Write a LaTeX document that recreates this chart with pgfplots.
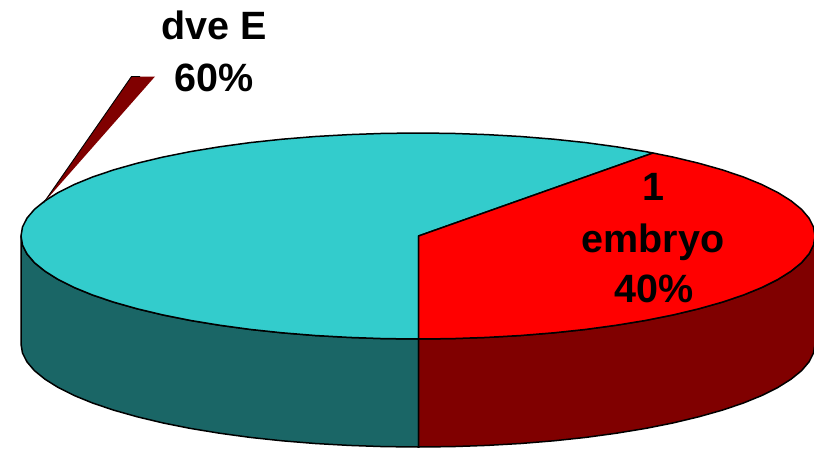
\documentclass[border=0pt]{standalone}
\usepackage{fontspec}
\setmainfont{Liberation Sans}
\usepackage{pgfplots}
\pgfplotsset{compat=1.18}
\definecolor{sliceCyan}{RGB}{51,204,204}
\definecolor{sideCyan}{RGB}{26,102,102}
\definecolor{sliceRed}{RGB}{255,0,0}
\definecolor{sideRed}{RGB}{128,0,0}
\newcommand{\pielabel}[3]{\node[anchor=base,inner sep=0pt,text=black] at (axis cs:#1,#2) {\fontsize{39.5}{47}\selectfont\bfseries #3};}
\begin{document}
\begin{tikzpicture}
\begin{axis}[
  name=pie, anchor=south west, at={(0,0)},
  width=814pt, height=448pt, scale only axis,
  xmin=0, xmax=814, ymin=0, ymax=448, y dir=reverse,
  hide axis, clip=true,
]
% side wall of the 60% slice
\addplot[draw=black, line width=1.5pt, fill=sideCyan, line join=round] coordinates {
 (21,236) (22.5,245) (27,253.9) (34.5,262.7) (45,271.2) (58.2,279.5) (74.2,287.5) (92.8,295.1)
 (113.9,302.2) (137.3,308.8) (162.8,314.9) (190.3,320.4) (219.5,325.2) (250.2,329.4) (282.2,332.8)
 (315.3,335.5) (349.1,337.4) (383.4,338.6) (418.5,339)
 (418.5,447) (383.4,446.6) (349.1,445.4) (315.3,443.5) (282.2,440.8) (250.2,437.4) (219.5,433.2)
 (190.3,428.4) (162.8,422.9) (137.3,416.8) (113.9,410.2) (92.8,403.1) (74.2,395.5) (58.2,387.5)
 (45,379.2) (34.5,370.7) (27,361.9) (22.5,353) (21,344) (21,236)
} --cycle;
% side wall of the 40% slice
\addplot[draw=black, line width=1.5pt, fill=sideRed, line join=round] coordinates {
 (418.5,339) (452.6,338.6) (486.9,337.4) (520.7,335.5) (553.8,332.8) (585.8,329.4) (616.5,325.2)
 (645.7,320.4) (673.2,314.9) (698.7,308.8) (722.1,302.2) (743.2,295.1) (761.8,287.5) (777.8,279.5)
 (791,271.2) (801.5,262.7) (809,253.9) (813.5,245) (815,236)
 (815,344) (813.5,353) (809,361.9) (801.5,370.7) (791,379.2) (777.8,387.5) (761.8,395.5)
 (743.2,403.1) (722.1,410.2) (698.7,416.8) (673.2,422.9) (645.7,428.4) (616.5,433.2) (585.8,437.4)
 (553.8,440.8) (520.7,443.5) (486.9,445.4) (452.6,446.6) (418.5,447) (418.5,339)
} --cycle;
% top face, 60%
\addplot[draw=black, line width=1.5pt, fill=sliceCyan, line join=round] coordinates {
 (418.5,236) (653,153) (645.7,151.6) (616.5,146.8) (585.8,142.6) (553.8,139.2) (520.7,136.5)
 (486.9,134.6) (452.6,133.4) (418,133) (383.4,133.4) (349.1,134.6) (315.3,136.5) (282.2,139.2)
 (250.2,142.6) (219.5,146.8) (190.3,151.6) (162.8,157.1) (137.3,163.2) (113.9,169.8) (92.8,176.9)
 (74.2,184.5) (58.2,192.5) (45,200.8) (34.5,209.3) (27,218.1) (22.5,227) (21,236)
 (22.5,245) (27,253.9) (34.5,262.7) (45,271.2) (58.2,279.5) (74.2,287.5) (92.8,295.1)
 (113.9,302.2) (137.3,308.8) (162.8,314.9) (190.3,320.4) (219.5,325.2) (250.2,329.4) (282.2,332.8)
 (315.3,335.5) (349.1,337.4) (383.4,338.6) (418.5,339) (418.5,236)
} --cycle;
% top face, 40%
\addplot[draw=black, line width=1.5pt, fill=sliceRed, line join=round] coordinates {
 (418.5,236) (653,153) (673.2,157.1) (698.7,163.2) (722.1,169.8) (743.2,176.9) (761.8,184.5)
 (777.8,192.5) (791,200.8) (801.5,209.3) (809,218.1) (813.5,227) (815,236)
 (813.5,245) (809,253.9) (801.5,262.7) (791,271.2) (777.8,279.5) (761.8,287.5) (743.2,295.1)
 (722.1,302.2) (698.7,308.8) (673.2,314.9) (645.7,320.4) (616.5,325.2) (585.8,329.4) (553.8,332.8)
 (520.7,335.5) (486.9,337.4) (452.6,338.6) (418.5,339) (418.5,236)
} --cycle;
% leader wedge of the 60% label
\addplot[draw=none, fill=sideRed] coordinates {(43.5,203) (131.5,76.5) (155,76.5) (43.5,203)} --cycle;
\addplot[draw=black, line width=0.9pt] coordinates {(43.5,203) (131.5,76.5) (140,76.5)};
\pielabel{214.5}{39.5}{dve E}
\pielabel{214.5}{91.5}{60\%}
\pielabel{653}{200}{1}
\pielabel{653}{252}{embryo}
\pielabel{654}{302.5}{40\%}
\end{axis}
% the page is exactly the plot area
\pgfresetboundingbox
\useasboundingbox (0,0) rectangle (814pt,448pt);
\end{tikzpicture}
\end{document}
